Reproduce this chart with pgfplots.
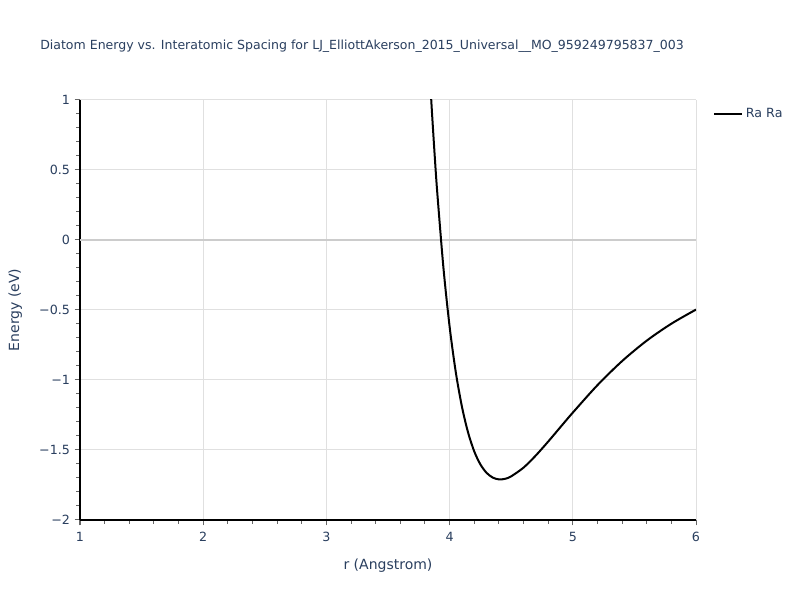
\documentclass[border=0pt]{standalone}
\usepackage{pgfplots}
\pgfplotsset{compat=1.18}
\usepackage{fontspec}
\setmainfont{DejaVu Sans}
\definecolor{ptext}{HTML}{2A3F5F}
\definecolor{gridc}{HTML}{E0E0E0}
\definecolor{zeroc}{HTML}{CCCCCC}
\definecolor{tickc}{HTML}{666666}
\begin{document}
\begin{tikzpicture}[x=0.75pt,y=0.75pt]
\fill[white] (0,0) rectangle (800,600);
\node[font=\fontsize{9.4}{11}\selectfont, text=ptext, anchor=west, inner sep=0pt] at (40,554) {Diatom Energy vs. Interatomic Spacing for LJ\_ElliottAkerson\_2015\_Universal\_\_MO\_959249795837\_003};
\begin{axis}[
  at={(60pt,60pt)}, anchor=south west,
  scale only axis, width=462pt, height=315pt,
  xmin=1, xmax=6, ymin=-2, ymax=1,
  axis x line*=bottom, axis y line*=left,
  axis line style={black, line width=0.9pt, -},
  xtick={1,2,3,4,5,6},
  ytick={-2,-1.5,-1,-0.5,0,0.5,1},
  yticklabels={−2,−1.5,−1,−0.5,0,0.5,1},
  minor x tick num=4, minor y tick num=4,
  tick align=outside,
  major tick length=4pt, minor tick length=3pt,
  every tick/.style={tickc, line width=0.75pt},
  xmajorgrids, ymajorgrids,
  major grid style={gridc, line width=0.75pt},
  tick label style={font=\fontsize{9.5}{10}\selectfont, text=ptext},
  xticklabel style={yshift=-1.5pt},
  /pgf/number format/assume math mode=true,
  xlabel={r (Angstrom)}, ylabel={Energy (eV)},
  label style={font=\fontsize{10.5}{12}\selectfont, text=ptext},
  xlabel style={yshift=-6pt},
  ylabel style={yshift=6pt},
  clip=true,
  legend style={at={(rel axis cs:1,0.9667)}, anchor=west, xshift=12.75pt, draw=none, fill=none, inner sep=0pt, font=\fontsize{9.5}{10}\selectfont, text=ptext},
  legend cell align=left,
  legend image code/.code={\draw[#1] (0pt,0pt) -- (21pt,0pt);},
]
\draw[zeroc, line width=1.5pt] (axis cs:1,0) -- (axis cs:6,0);
\addplot[black, line width=1.5pt, smooth] table {
r E
3.85 1.016
3.86 0.867
3.88 0.590
3.90 0.337
3.95 -0.199
4.00 -0.618
4.05 -0.943
4.10 -1.190
4.15 -1.375
4.20 -1.510
4.25 -1.603
4.30 -1.663
4.35 -1.697
4.40 -1.710
4.45 -1.706
4.50 -1.688
4.60 -1.626
4.70 -1.539
4.80 -1.440
4.90 -1.336
5.00 -1.233
5.20 -1.037
5.40 -0.865
5.60 -0.719
5.80 -0.598
6.00 -0.497
};
\addlegendentry{Ra Ra}
\end{axis}
\end{tikzpicture}
\end{document}
